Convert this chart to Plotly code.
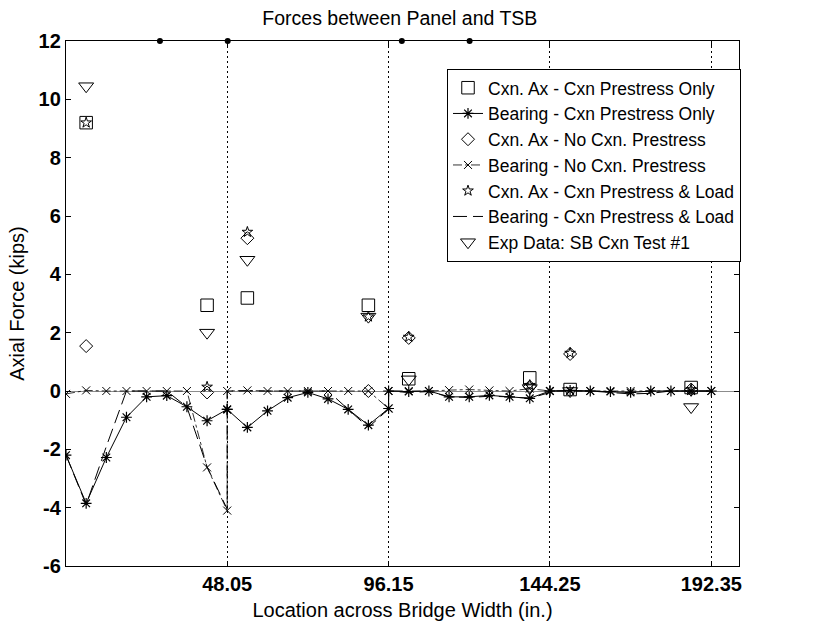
import plotly.graph_objects as go

# Bearing nodes across the four panels (joints at 48.05, 96.15, 144.25 repeated:
# one value closes a panel, the next opens the following one)
node_x = [0.0, 6.01, 12.02, 18.02, 24.03, 30.04, 36.04, 42.05, 48.05,
          48.05, 54.06, 60.07, 66.08, 72.09, 78.10, 84.11, 90.13, 96.15,
          96.15, 102.16, 108.17, 114.18, 120.19, 126.20, 132.21, 138.23, 144.25,
          144.25, 150.26, 156.27, 162.28, 168.29, 174.30, 180.31, 186.33, 192.35]

brg_prestress_only = [-2.20, -3.85, -2.28, -0.90, -0.20, -0.16, -0.54, -1.02, -0.63,
                      -0.63, -1.25, -0.68, -0.23, -0.05, -0.27, -0.63, -1.17, -0.60,
                      0.00, -0.02, 0.00, -0.20, -0.20, -0.15, -0.20, -0.25, 0.00,
                      0.00, 0.02, 0.00, -0.02, -0.05, 0.00, 0.00, 0.00, 0.00]

brg_no_prestress = [-0.10, 0.02, 0.00, 0.00, 0.00, 0.00, 0.00, -2.62, -4.10,
                    0.00, 0.02, 0.00, 0.00, 0.00, 0.00, 0.00, 0.00, -0.60,
                    0.00, 0.00, 0.00, 0.03, 0.05, 0.02, 0.00, 0.08, 0.00,
                    0.00, 0.00, 0.00, 0.00, 0.00, 0.00, 0.00, 0.00, 0.00]

brg_prestress_load = [-2.20, -3.90, -1.90, 0.00, 0.00, 0.00, -0.55, -2.60, -4.05,
                      0.00, 0.00, 0.00, 0.00, 0.00, 0.00, -0.63, -1.25, -0.62,
                      0.00, -0.05, -0.02, -0.20, -0.22, -0.18, -0.20, -0.25, -0.05,
                      0.00, 0.00, 0.00, -0.05, -0.10, -0.08, 0.00, 0.00, 0.00]

# Connection locations and connection axial forces
cxn_x = [6.01, 42.05, 54.06, 90.13, 102.16, 138.23, 150.26, 186.33]
cxn_prestress_only = [9.20, 2.94, 3.19, 2.94, 0.42, 0.45, 0.05, 0.12]
cxn_no_prestress = [1.54, -0.05, 5.24, 0.00, 1.82, 0.15, 1.27, 0.05]
cxn_prestress_load = [9.20, 0.14, 5.45, 2.55, 1.85, 0.20, 1.30, 0.05]
exp_sb_test1 = [10.45, 2.00, 4.50, 2.55, 0.40, 0.10, 0.00, -0.55]

# TSB positions marked along the top edge
tsb_x = [28.0, 48.2, 100.1, 120.3]
tsb_y = [12, 12, 12, 12]

x_ticks = [48.05, 96.15, 144.25, 192.35]
x_tick_text = ["48.05", "96.15", "144.25", "192.35"]
y_ticks = [-6, -4, -2, 0, 2, 4, 6, 8, 10, 12]
y_tick_text = ["-6", "-4", "-2", "0", "2", "4", "6", "8", "10", "12"]

FONT = "Liberation Sans, Arial, sans-serif"
BLACK = "#000000"

fig = go.Figure()

fig.add_trace(go.Scatter(
    x=cxn_x, y=cxn_prestress_only, mode="markers",
    name="Cxn. Ax - Cxn Prestress Only",
    marker=dict(symbol="square-open", size=12.5, color=BLACK, line=dict(width=1)),
))
fig.add_trace(go.Scatter(
    x=node_x, y=brg_prestress_only, mode="lines+markers",
    name="Bearing - Cxn Prestress Only",
    line=dict(color=BLACK, width=1),
    marker=dict(symbol="asterisk-open", size=9, color=BLACK, line=dict(width=1.2, color=BLACK)),
))
fig.add_trace(go.Scatter(
    x=cxn_x, y=cxn_no_prestress, mode="markers",
    name="Cxn. Ax - No Cxn. Prestress",
    marker=dict(symbol="diamond-open", size=10, color=BLACK, line=dict(width=1)),
))
fig.add_trace(go.Scatter(
    x=node_x, y=brg_no_prestress, mode="lines+markers",
    name="Bearing - No Cxn. Prestress",
    line=dict(color=BLACK, width=0.8, dash="dashdot"),
    marker=dict(symbol="x-thin-open", size=8, color=BLACK, line=dict(width=1, color=BLACK)),
))
fig.add_trace(go.Scatter(
    x=cxn_x, y=cxn_prestress_load, mode="markers",
    name="Cxn. Ax - Cxn Prestress & Load",
    marker=dict(symbol="star-open", size=8, color=BLACK, line=dict(width=1)),
))
fig.add_trace(go.Scatter(
    x=node_x, y=brg_prestress_load, mode="lines",
    name="Bearing - Cxn Prestress & Load",
    line=dict(color=BLACK, width=1, dash="14px,6px"),
))
fig.add_trace(go.Scatter(
    x=cxn_x, y=exp_sb_test1, mode="markers",
    name="Exp Data: SB Cxn Test #1",
    marker=dict(symbol="triangle-down-open", size=13, color=BLACK, line=dict(width=1)),
))
fig.add_trace(go.Scatter(
    x=tsb_x, y=tsb_y, mode="markers", showlegend=False, cliponaxis=False,
    marker=dict(symbol="circle", size=6, color=BLACK),
))

axis_common = dict(
    showline=True, linecolor=BLACK, linewidth=1.3, mirror="ticks",
    ticks="inside", ticklen=5, tickcolor=BLACK, tickwidth=1,
    tickfont=dict(family=FONT, size=20, color=BLACK, weight="bold"),
)

fig.update_layout(
    width=816, height=629,
    margin=dict(l=66, r=77, t=41, b=60),
    paper_bgcolor="white", plot_bgcolor="white",
    font=dict(family=FONT, size=20, color=BLACK),
    title=dict(text="Forces between Panel and TSB", x=0.49, xanchor="center",
               y=1 - 18 / 629, yanchor="middle",
               font=dict(family=FONT, size=19.5, color=BLACK)),
    xaxis=dict(
        range=[0, 200.6], tickvals=x_ticks, ticktext=x_tick_text,
        showgrid=True, gridcolor=BLACK, gridwidth=1, griddash="2px,3px",
        zeroline=False,
        title=dict(text="Location across Bridge Width (in.)", standoff=8,
                   font=dict(family=FONT, size=20, color=BLACK)),
        **axis_common,
    ),
    yaxis=dict(
        range=[-6, 12], tickvals=y_ticks, ticktext=y_tick_text, showgrid=False,
        zeroline=True, zerolinecolor="#8c8c8c", zerolinewidth=1,
        title=dict(text="Axial Force (kips)", standoff=8,
                   font=dict(family=FONT, size=20, color=BLACK)),
        **axis_common,
    ),
    legend=dict(
        x=(447 - 66) / 673, y=(569 - 69) / 528, xanchor="left", yanchor="top",
        bgcolor="white", bordercolor=BLACK, borderwidth=1,
        font=dict(family=FONT, size=17.5, color=BLACK),
        itemwidth=30, tracegroupgap=0,
    ),
    showlegend=True,
)

fig.write_html("out.html")
